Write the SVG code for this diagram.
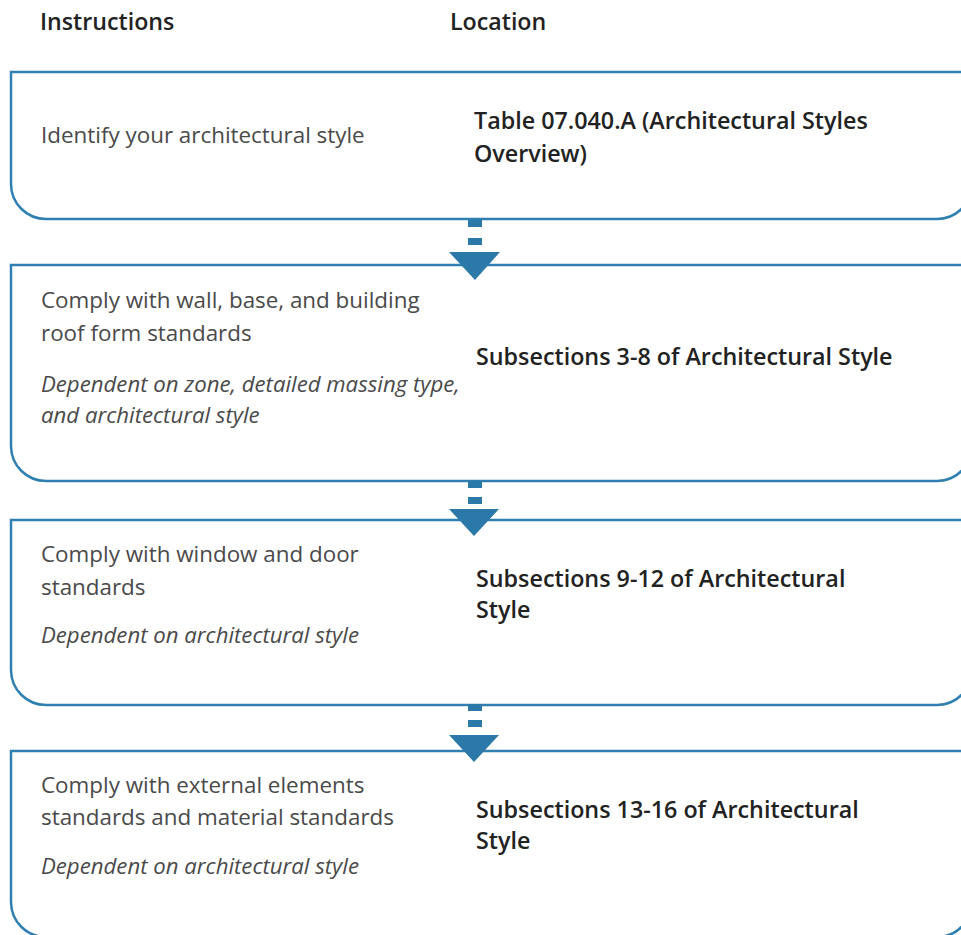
<svg xmlns="http://www.w3.org/2000/svg" width="961" height="935" viewBox="0 0 961 935">
<style>
.box{fill:#fff;stroke:#2f7fb0;stroke-width:2.5}
.arr{fill:#2a79a8}
text{font-family:"Open Sans","Noto Sans","Liberation Sans",sans-serif;font-size:22.4px}
.hd{fill:#222;font-weight:600;font-size:23.2px}
.ins{fill:#4a4a4a}
.it{fill:#4a4a4a;font-style:italic;font-size:22.2px}
.loc{fill:#222;font-weight:600;font-size:23.3px}
</style>
<rect width="961" height="935" fill="#fff"/>
<g id="headers">
<text class="hd" x="40" y="30">Instructions</text>
<text class="hd" x="450" y="30">Location</text>
</g>
<g id="step1">
<path class="box" d="M972 72 H11 V184 A35 35 0 0 0 46 219 H937 A35 35 0 0 0 972 184 Z"/>
<text class="ins" x="41" y="143">Identify your architectural style</text>
<text class="loc" x="474" y="129">Table 07.040.A (Architectural Styles</text>
<text class="loc" x="474" y="162">Overview)</text>
</g>
<g id="step2">
<path class="box" d="M972 265 H11 V446 A35 35 0 0 0 46 481 H937 A35 35 0 0 0 972 446 Z"/>
<text class="ins" x="41" y="308">Comply with wall, base, and building</text>
<text class="ins" x="41" y="341">roof form standards</text>
<text class="it" x="41" y="392">Dependent on zone, detailed massing type,</text>
<text class="it" x="41" y="423">and architectural style</text>
<text class="loc" x="476" y="365">Subsections 3-8 of Architectural Style</text>
</g>
<g id="step3">
<path class="box" d="M972 520 H11 V670 A35 35 0 0 0 46 705 H937 A35 35 0 0 0 972 670 Z"/>
<text class="ins" x="41" y="562">Comply with window and door</text>
<text class="ins" x="41" y="595">standards</text>
<text class="it" x="41" y="643">Dependent on architectural style</text>
<text class="loc" x="476" y="587">Subsections 9-12 of Architectural</text>
<text class="loc" x="476" y="618">Style</text>
</g>
<g id="step4">
<path class="box" d="M972 751 H11 V902 A35 35 0 0 0 46 937 H937 A35 35 0 0 0 972 902 Z"/>
<text class="ins" x="41" y="793">Comply with external elements</text>
<text class="ins" x="41" y="825">standards and material standards</text>
<text class="it" x="41" y="874">Dependent on architectural style</text>
<text class="loc" x="476" y="818">Subsections 13-16 of Architectural</text>
<text class="loc" x="476" y="849">Style</text>
</g>
<g id="connectors">
<rect class="arr" x="468" y="220" width="14" height="7"/>
<rect class="arr" x="468" y="238" width="14" height="7"/>
<polygon class="arr" points="449,252 500,252 475,280"/>
<rect class="arr" x="468" y="481" width="14" height="7"/>
<rect class="arr" x="468" y="497" width="14" height="7"/>
<polygon class="arr" points="449,509 499,509 474,536"/>
<rect class="arr" x="468" y="704" width="14" height="7"/>
<rect class="arr" x="468" y="720" width="14" height="7"/>
<polygon class="arr" points="449,735 499,735 474,762"/>
</g>
</svg>
